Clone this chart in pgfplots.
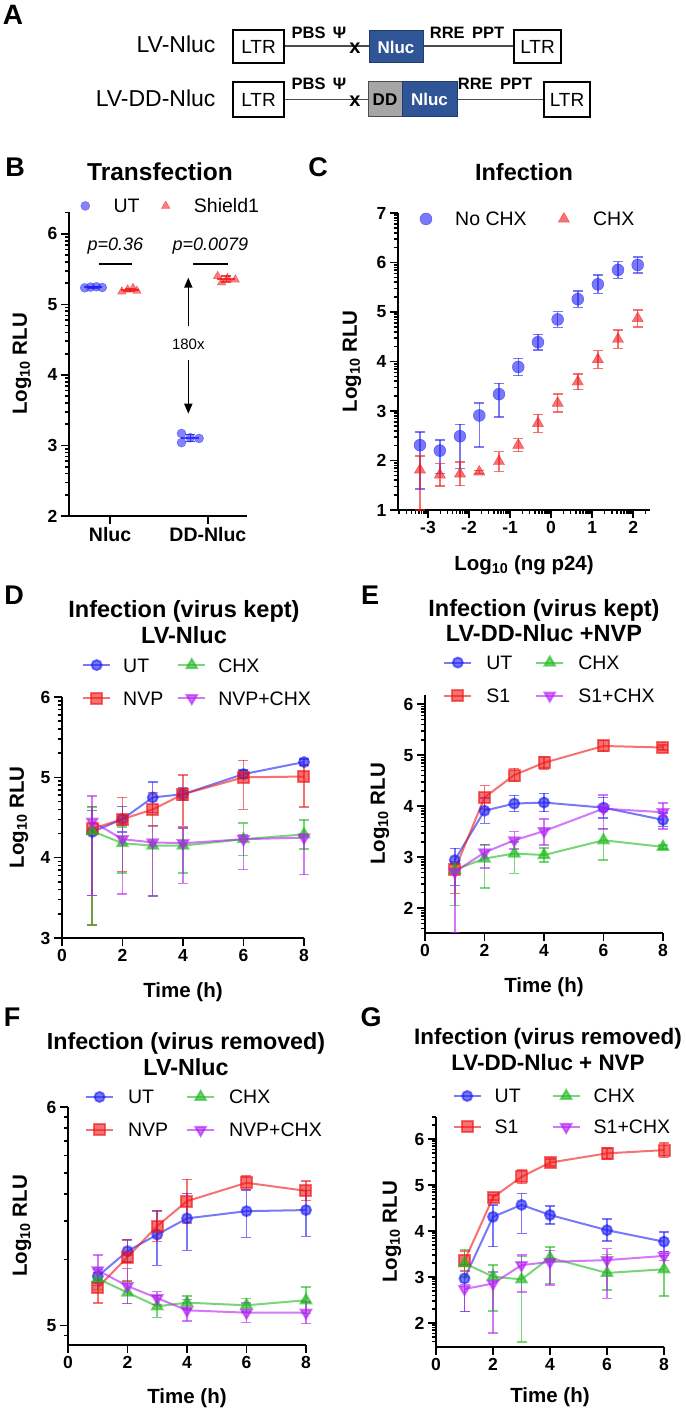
\documentclass[border=0pt]{standalone}
\usepackage{fontspec}
\setmainfont{Liberation Sans}
\usepackage{pgfplots}
\pgfplotsset{compat=1.18}
\usetikzlibrary{arrows.meta}

\definecolor{cb}{RGB}{30,30,245}
\definecolor{cr}{RGB}{240,20,20}
\definecolor{cg}{RGB}{30,185,30}
\definecolor{cp}{RGB}{180,30,245}
\definecolor{nblue}{RGB}{47,85,151}

\newcommand{\fs}[1]{\fontsize{#1}{#1}\selectfont}

\pgfplotsset{
  panel/.style={
    scale only axis, clip=false,
    axis x line=bottom, axis y line=left,
    axis line style={-, line width=2pt, black},
    tick align=outside,
    major tick length=8pt, minor tick length=4pt,
    tick style={black, line width=1.6pt},
    tick label style={font=\fs{17.5}\bfseries},
    /pgf/number format/assume math mode=true,
    label style={font=\fs{20.5}\bfseries},
    ylabel={Log\textsubscript{10} RLU},
    legend style={draw=none, fill=none, font=\fs{19.5},
      nodes={inner sep=0pt, text height=14pt, text depth=0pt},
      column sep=0pt, row sep=17pt},
    legend cell align=left,
    legend columns=2,
    error bars/y dir=both, error bars/y explicit,
    error bars/error bar style={line width=1.5pt, solid},
    error bars/error mark options={rotate=90, mark size=5pt, line width=1.5pt},
  },
  lineleg/.style={legend image code/.code={
     \draw[##1, mark repeat=2, mark phase=2] plot coordinates {(0pt,0pt) (13.5pt,0pt) (27pt,0pt)};
     \path (0pt,-7pt) (#1,7pt);}},
  markleg/.style={legend image code/.code={
     \draw[##1] plot coordinates {(0pt,0pt)};
     \path (-6pt,-7pt) (#1,7pt);}},
  colsep/.style={legend style={/tikz/every even column/.append style={column sep=#1}}},
  sUT/.style={cb, opacity=0.6, line width=2pt, mark=*, mark size=5pt, mark options={fill=cb}},
  sNVP/.style={cr, opacity=0.6, line width=2pt, mark=square*, mark size=5.5pt, mark options={fill=cr}},
  sCHX/.style={cg, opacity=0.6, line width=2pt, mark=triangle*, mark size=6pt, mark options={fill=cg}},
  sNC/.style={cp, opacity=0.6, line width=2pt, mark=triangle*, mark size=6pt, mark options={fill=cp, rotate=180}},
}

\begin{document}
\begin{tikzpicture}
\path[use as bounding box] (0pt,0pt) rectangle (685pt,-1412pt);

% ---------------- Panel A (schematic) ----------------
\node[font=\fs{28}\bfseries] at (13pt,-15pt) {A};
\node[anchor=east, font=\fs{23}] at (219pt,-44pt) {LV-Nluc};
\node[anchor=east, font=\fs{23}] at (219pt,-98pt) {LV-DD-Nluc};
\draw[line width=1.3pt, black!70] (284pt,-46pt) -- (514pt,-46pt);
\draw[line width=1.3pt, black!70] (284pt,-99.5pt) -- (544pt,-99.5pt);
\node[draw, line width=1.4pt, fill=white, minimum width=51pt, minimum height=33pt, inner sep=0pt, font=\fs{19}] at (258.5pt,-46.5pt) {LTR};
\node[draw, line width=1.4pt, fill=white, minimum width=47pt, minimum height=33pt, inner sep=0pt, font=\fs{19}] at (537.5pt,-46.5pt) {LTR};
\node[draw, line width=1.4pt, fill=white, minimum width=51pt, minimum height=35pt, inner sep=0pt, font=\fs{19}] at (258.5pt,-99.5pt) {LTR};
\node[draw, line width=1.4pt, fill=white, minimum width=46pt, minimum height=35pt, inner sep=0pt, font=\fs{19}] at (567pt,-99.5pt) {LTR};
\node[fill=nblue, draw=nblue!70!black, line width=1pt, minimum width=54pt, minimum height=32pt, inner sep=0pt, text=white, font=\fs{17}\bfseries] at (396pt,-47pt) {Nluc};
\node[fill=black!35, draw=black!70, line width=1pt, minimum width=34pt, minimum height=35pt, inner sep=0pt, font=\fs{17}\bfseries] at (385pt,-99.5pt) {DD};
\node[fill=nblue, draw=nblue!70!black, line width=1pt, minimum width=55pt, minimum height=35pt, inner sep=0pt, text=white, font=\fs{17}\bfseries] at (429.5pt,-99.5pt) {Nluc};
\node[font=\fs{20}\bfseries] at (355pt,-48pt) {x};
\node[font=\fs{20}\bfseries] at (355pt,-101pt) {x};
\node[font=\fs{16.5}\bfseries] at (319pt,-33pt) {PBS\, Ψ};
\node[font=\fs{16.5}\bfseries] at (319pt,-84pt) {PBS\, Ψ};
\node[font=\fs{16.5}\bfseries] at (467pt,-33pt) {RRE\, PPT};
\node[font=\fs{16.5}\bfseries] at (495pt,-84pt) {RRE\, PPT};

% ---------------- Panel letters and titles ----------------
\node[font=\fs{27}\bfseries] at (15pt,-167pt) {B};
\node[font=\fs{27}\bfseries] at (318pt,-167pt) {C};
\node[font=\fs{27}\bfseries] at (14pt,-595pt) {D};
\node[font=\fs{27}\bfseries] at (370pt,-595pt) {E};
\node[font=\fs{27}\bfseries] at (12pt,-1017pt) {F};
\node[font=\fs{27}\bfseries] at (371pt,-1017pt) {G};

\node[font=\fontsize{24.5}{26}\selectfont\bfseries] at (160pt,-172pt) {Transfection};
\node[font=\fontsize{23.5}{25}\selectfont\bfseries] at (524pt,-172pt) {Infection};
\node[font=\fontsize{23.5}{25.5}\selectfont\bfseries, align=center] at (184pt,-622pt) {Infection (virus kept)\\LV-Nluc};
\node[font=\fontsize{23.5}{25.5}\selectfont\bfseries, align=center] at (544pt,-620.5pt) {Infection (virus kept)\\LV-DD-Nluc +NVP};
\node[font=\fontsize{23.3}{25.5}\selectfont\bfseries, align=center] at (186pt,-1054pt) {Infection (virus removed)\\LV-Nluc};
\node[font=\fontsize{22.4}{25.5}\selectfont\bfseries, align=center] at (548pt,-1049.5pt) {Infection (virus removed)\\LV-DD-Nluc + NVP};

% ---------------- Panel B ----------------
\begin{axis}[panel, at={(69pt,-516pt)}, anchor=south west,
  width=178pt, height=304pt,
  xmin=-0.42, xmax=1.40, ymin=2, ymax=6.31,
  xtick={0,1}, xticklabels={Nluc,DD-Nluc},
  x tick label style={font=\fs{19.5}\bfseries},
  ytick={2,3,4,5,6},
  minor ytick={2.301,2.477,2.602,2.699,2.778,2.845,2.903,2.954,3.301,3.477,3.602,3.699,3.778,3.845,3.903,3.954,4.301,4.477,4.602,4.699,4.778,4.845,4.903,4.954,5.301,5.477,5.602,5.699,5.778,5.845,5.903,5.954,6.301},
  ylabel style={at={(axis description cs:-0.264,0.5)}, anchor=center},
  markleg=28pt, colsep=20pt,
  legend style={at={(axis description cs:0.562,1.020)}, anchor=center, cells={anchor=west}},
]
\addplot[only marks, cb, opacity=0.55, mark=*, mark size=4.5pt] coordinates {
 (-0.26,5.235) (-0.20,5.245) (-0.14,5.25) (-0.08,5.24)
 (0.73,3.17) (0.73,3.04) (0.82,3.11) (0.91,3.10)};
\addlegendentry{UT}
\addplot[only marks, cr, opacity=0.55, mark=triangle*, mark size=5pt] coordinates {
 (0.12,5.18) (0.18,5.21) (0.235,5.23) (0.275,5.19)
 (1.10,5.40) (1.14,5.31) (1.20,5.37) (1.28,5.35)};
\addlegendentry{Shield1}
\addplot[forget plot, only marks, cb, opacity=0.8, mark=-, mark size=9pt, mark options={line width=2pt},
  error bars/error mark options={rotate=90, mark size=5pt, line width=1.5pt}] coordinates {
 (-0.17,5.243) +- (0,0.01) (0.82,3.105) +- (0,0.05)};
\addplot[forget plot, only marks, cr, opacity=0.8, mark=-, mark size=9pt, mark options={line width=2pt},
  error bars/error mark options={rotate=90, mark size=5pt, line width=1.5pt}] coordinates {
 (0.20,5.203) +- (0,0.02) (1.19,5.36) +- (0,0.04)};
\draw[line width=2pt] (axis cs:-0.11,5.57) -- (axis cs:0.22,5.57);
\draw[line width=2pt] (axis cs:0.85,5.57) -- (axis cs:1.21,5.57);
\node[font=\fs{18}\itshape] at (axis cs:0.055,5.82) {p=0.36};
\node[font=\fs{18}\itshape] at (axis cs:1.025,5.82) {p=0.0079};
\draw[line width=1.6pt, -{Triangle[length=10pt,width=8pt]}] (axis cs:0.80,4.69) -- (axis cs:0.80,5.38);
\draw[line width=1.6pt, -{Triangle[length=10pt,width=8pt]}] (axis cs:0.80,4.21) -- (axis cs:0.80,3.45);
\node[font=\fs{15}] at (axis cs:0.80,4.44) {180x};
\end{axis}

% ---------------- Panel C ----------------
\begin{axis}[panel, at={(398pt,-510pt)}, anchor=south west,
  width=252pt, height=297pt,
  xmin=-3.73, xmax=2.41, ymin=1, ymax=7,
  xtick={-3,-2,-1,0,1,2}, ytick={1,2,3,4,5,6,7},
  minor xtick={-3.699,-3.523,-3.398,-3.301,-3.222,-3.155,-3.097,-3.046,-2.699,-2.523,-2.398,-2.301,-2.222,-2.155,-2.097,-2.046,-1.699,-1.523,-1.398,-1.301,-1.222,-1.155,-1.097,-1.046,-0.699,-0.523,-0.398,-0.301,-0.222,-0.155,-0.097,-0.046,0.301,0.477,0.602,0.699,0.778,0.845,0.903,0.954,1.301,1.477,1.602,1.699,1.778,1.845,1.903,1.954,2.301},
  minor ytick={1.301,1.477,1.602,1.699,1.778,1.845,1.903,1.954,2.301,2.477,2.602,2.699,2.778,2.845,2.903,2.954,3.301,3.477,3.602,3.699,3.778,3.845,3.903,3.954,4.301,4.477,4.602,4.699,4.778,4.845,4.903,4.954,5.301,5.477,5.602,5.699,5.778,5.845,5.903,5.954,6.301,6.477,6.602,6.699,6.778,6.845,6.903,6.954},
  xlabel={Log\textsubscript{10} (ng p24)},
  xlabel style={at={(axis description cs:0.5,-0.185)}, anchor=center},
  ylabel style={at={(axis description cs:-0.183,0.5)}, anchor=center},
  markleg=29pt, colsep=31pt,
  legend style={at={(axis description cs:0.512,0.98)}, anchor=center, cells={anchor=west}},
]
\addplot[only marks, cb, opacity=0.6, mark=*, mark size=6pt] coordinates {
 (-3.195,2.31) += (0,0.27) -= (0,0.89)
 (-2.71,2.20) += (0,0.21) -= (0,0.46)
 (-2.22,2.49) += (0,0.24) -= (0,0.65)
 (-1.75,2.91) += (0,0.25) -= (0,0.64)
 (-1.27,3.34) += (0,0.22) -= (0,0.46)
 (-0.80,3.89) +- (0,0.175)
 (-0.32,4.39) +- (0,0.16)
 (0.16,4.85) +- (0,0.16)
 (0.65,5.26) +- (0,0.165)
 (1.14,5.56) +- (0,0.185)
 (1.63,5.85) +- (0,0.17)
 (2.11,5.95) +- (0,0.16)};
\addlegendentry{No CHX}
\addplot[only marks, cr, opacity=0.6, mark=triangle*, mark size=6.5pt] coordinates {
 (-3.195,1.81) += (0,0.28) -= (0,0.81)
 (-2.71,1.71) +- (0,0.225)
 (-2.22,1.73) +- (0,0.235)
 (-1.75,1.77) +- (0,0.03)
 (-1.27,1.98) +- (0,0.2)
 (-0.80,2.31) +- (0,0.13)
 (-0.32,2.75) +- (0,0.18)
 (0.16,3.16) +- (0,0.18)
 (0.65,3.59) +- (0,0.16)
 (1.14,4.04) +- (0,0.18)
 (1.63,4.45) +- (0,0.185)
 (2.11,4.87) +- (0,0.17)};
\addlegendentry{CHX}
\end{axis}

% ---------------- Panel D ----------------
\begin{axis}[panel, at={(62pt,-938pt)}, anchor=south west,
  width=242pt, height=241pt,
  xmin=0, xmax=8, ymin=3, ymax=6,
  xtick={0,2,4,6,8}, ytick={3,4,5,6},
  minor ytick={3.301,3.477,3.602,3.699,3.778,3.845,3.903,3.954,4.301,4.477,4.602,4.699,4.778,4.845,4.903,4.954,5.301,5.477,5.602,5.699,5.778,5.845,5.903,5.954},
  xlabel={Time (h)},
  xlabel style={at={(axis description cs:0.5,-0.224)}, anchor=center},
  ylabel style={at={(axis description cs:-0.178,0.5)}, anchor=center},
  lineleg=39pt, colsep=14pt, transpose legend,
  legend style={at={(axis description cs:0.556,1.064)}, anchor=center, cells={anchor=west}},
]
\addplot[sUT] coordinates {
 (1,4.32) += (0,0.27) -= (0,0.79) (2,4.48) +- (0,0.16) (3,4.75) +- (0,0.19)
 (4,4.79) +- (0,0.08) (6,5.04) +- (0,0.05) (8,5.19) +- (0,0.04)};
\addlegendentry{UT}
\addplot[sNVP] coordinates {
 (1,4.36) += (0,0.28) -= (0,1.2) (2,4.48) += (0,0.27) -= (0,0.65) (3,4.60) +- (0,0.21)
 (4,4.79) += (0,0.24) -= (0,0.4) (6,5.00) += (0,0.21) -= (0,0.40) (8,5.01) += (0,0.15) -= (0,0.38)};
\addlegendentry{NVP}
\addplot[sCHX] coordinates {
 (1,4.33) += (0,0.30) -= (0,1.17) (2,4.18) += (0,0.2) -= (0,0.37) (3,4.15) += (0,0.25) -= (0,0.63)
 (4,4.15) += (0,0.22) -= (0,0.34) (6,4.23) +- (0,0.2) (8,4.29) +- (0,0.18)};
\addlegendentry{CHX}
\addplot[sNC] coordinates {
 (1,4.45) += (0,0.32) -= (0,0.92) (2,4.23) += (0,0.17) -= (0,0.68) (3,4.19) += (0,0.21) -= (0,0.67)
 (4,4.18) += (0,0.19) -= (0,0.50) (6,4.23) += (0,0.05) -= (0,0.38) (8,4.25) += (0,0.05) -= (0,0.46)};
\addlegendentry{NVP+CHX}
\end{axis}

% ---------------- Panel E ----------------
\begin{axis}[panel, at={(425pt,-933pt)}, anchor=south west,
  width=238pt, height=238pt,
  xmin=0, xmax=8, ymin=1.51, ymax=6.18,
  xtick={0,2,4,6,8}, ytick={2,3,4,5,6},
  minor ytick={1.602,1.699,1.778,1.845,1.903,1.954,2.301,2.477,2.602,2.699,2.778,2.845,2.903,2.954,3.301,3.477,3.602,3.699,3.778,3.845,3.903,3.954,4.301,4.477,4.602,4.699,4.778,4.845,4.903,4.954,5.301,5.477,5.602,5.699,5.778,5.845,5.903,5.954},
  xlabel={Time (h)},
  xlabel style={at={(axis description cs:0.5,-0.227)}, anchor=center},
  ylabel style={at={(axis description cs:-0.189,0.5)}, anchor=center},
  lineleg=41pt, colsep=23pt, transpose legend,
  legend style={at={(axis description cs:0.521,1.067)}, anchor=center, cells={anchor=west}},
]
\addplot[sUT] coordinates {
 (1,2.94) += (0,0.23) -= (0,0.5) (2,3.91) +- (0,0.25) (3,4.05) +- (0,0.16)
 (4,4.07) +- (0,0.18) (6,3.97) +- (0,0.2) (8,3.73) +- (0,0.13)};
\addlegendentry{UT}
\addplot[sNVP] coordinates {
 (1,2.75) += (0,0.12) -= (0,0.46) (2,4.17) +- (0,0.23) (3,4.61) +- (0,0.13)
 (4,4.85) +- (0,0.12) (6,5.18) +- (0,0.11) (8,5.15) +- (0,0.05)};
\addlegendentry{S1}
\addplot[sCHX] coordinates {
 (1,2.75) += (0,0.15) -= (0,0.7) (2,2.97) += (0,0.27) -= (0,0.58) (3,3.07) += (0,0.23) -= (0,0.39)
 (4,3.04) +- (0,0.14) (6,3.33) += (0,0.23) -= (0,0.39) (8,3.20) +- (0,0.04)};
\addlegendentry{CHX}
\addplot[sNC] coordinates {
 (1,2.71) += (0,0.2) -= (0,1.19) (2,3.09) += (0,0.16) -= (0,0.3) (3,3.33) +- (0,0.17)
 (4,3.51) += (0,0.24) -= (0,0.27) (6,3.95) += (0,0.27) -= (0,0.4) (8,3.88) += (0,0.18) -= (0,0.33)};
\addlegendentry{S1+CHX}
\end{axis}

% ---------------- Panel F ----------------
\begin{axis}[panel, at={(68pt,-1345pt)}, anchor=south west,
  width=238pt, height=238pt,
  xmin=0, xmax=8, ymin=4.91, ymax=6,
  xtick={0,2,4,6,8}, ytick={5,6},
  minor ytick={4.954,5.301,5.477,5.602,5.699,5.778,5.845,5.903,5.954},
  xlabel={Time (h)},
  xlabel style={at={(axis description cs:0.5,-0.223)}, anchor=center},
  ylabel style={at={(axis description cs:-0.193,0.5)}, anchor=center},
  lineleg=41pt, colsep=18pt, transpose legend,
  legend style={at={(axis description cs:0.569,0.973)}, anchor=center, cells={anchor=west}},
]
\addplot[sUT] coordinates {
 (1,5.225) +- (0,0.03) (2,5.34) +- (0,0.05) (3,5.416) += (0,0.108) -= (0,0.141)
 (4,5.49) += (0,0.114) -= (0,0.146) (6,5.523) += (0,0.096) -= (0,0.12) (8,5.528) += (0,0.09) -= (0,0.12)};
\addlegendentry{UT}
\addplot[sNVP] coordinates {
 (1,5.173) +- (0,0.07) (2,5.313) += (0,0.08) -= (0,0.11) (3,5.455) +- (0,0.07)
 (4,5.569) +- (0,0.1) (6,5.653) +- (0,0.03) (8,5.616) +- (0,0.045)};
\addlegendentry{NVP}
\addplot[sCHX] coordinates {
 (1,5.214) +- (0,0.05) (2,5.15) +- (0,0.05) (3,5.087) +- (0,0.05)
 (4,5.104) +- (0,0.03) (6,5.092) +- (0,0.03) (8,5.115) +- (0,0.06)};
\addlegendentry{CHX}
\addplot[sNC] coordinates {
 (1,5.252) +- (0,0.07) (2,5.18) +- (0,0.08) (3,5.125) +- (0,0.03)
 (4,5.069) +- (0,0.05) (6,5.058) +- (0,0.045) (8,5.058) +- (0,0.05)};
\addlegendentry{NVP+CHX}
\end{axis}

% ---------------- Panel G ----------------
\begin{axis}[panel, at={(436pt,-1347pt)}, anchor=south west,
  width=228pt, height=230pt,
  xmin=0, xmax=8, ymin=1.48, ymax=6.48,
  xtick={0,2,4,6,8}, ytick={2,3,4,5,6},
  minor ytick={1.602,1.699,1.778,1.845,1.903,1.954,2.301,2.477,2.602,2.699,2.778,2.845,2.903,2.954,3.301,3.477,3.602,3.699,3.778,3.845,3.903,3.954,4.301,4.477,4.602,4.699,4.778,4.845,4.903,4.954,5.301,5.477,5.602,5.699,5.778,5.845,5.903,5.954,6.301,6.477},
  xlabel={Time (h)},
  xlabel style={at={(axis description cs:0.5,-0.217)}, anchor=center},
  ylabel style={at={(axis description cs:-0.193,0.5)}, anchor=center},
  lineleg=40pt, colsep=31pt, transpose legend,
  legend style={at={(axis description cs:0.550,1.024)}, anchor=center, row sep=15pt, cells={anchor=west}},
]
\addplot[sUT] coordinates {
 (1,2.97) += (0,0.3) -= (0,0.72) (2,4.31) += (0,0.26) -= (0,0.65) (3,4.57) += (0,0.25) -= (0,0.62)
 (4,4.35) +- (0,0.2) (6,4.02) +- (0,0.24) (8,3.77) +- (0,0.21)};
\addlegendentry{UT}
\addplot[sNVP] coordinates {
 (1,3.35) +- (0,0.22) (2,4.73) +- (0,0.05) (3,5.18) +- (0,0.15)
 (4,5.49) +- (0,0.08) (6,5.69) +- (0,0.12) (8,5.76) +- (0,0.16)};
\addlegendentry{S1}
\addplot[sCHX] coordinates {
 (1,3.30) +- (0,0.3) (2,3.01) += (0,0.25) -= (0,0.75) (3,2.95) += (0,0.5) -= (0,1.36)
 (4,3.42) += (0,0.23) -= (0,0.56) (6,3.09) += (0,0.4) -= (0,0.37) (8,3.17) += (0,0.3) -= (0,0.58)};
\addlegendentry{CHX}
\addplot[sNC] coordinates {
 (1,2.74) += (0,0.1) -= (0,0.49) (2,2.86) += (0,0.25) -= (0,1.08) (3,3.26) += (0,0.22) -= (0,0.58)
 (4,3.33) += (0,0.25) -= (0,0.5) (6,3.37) += (0,0.25) -= (0,0.83) (8,3.46) +- (0,0.1)};
\addlegendentry{S1+CHX}
\end{axis}
\end{tikzpicture}
\end{document}
